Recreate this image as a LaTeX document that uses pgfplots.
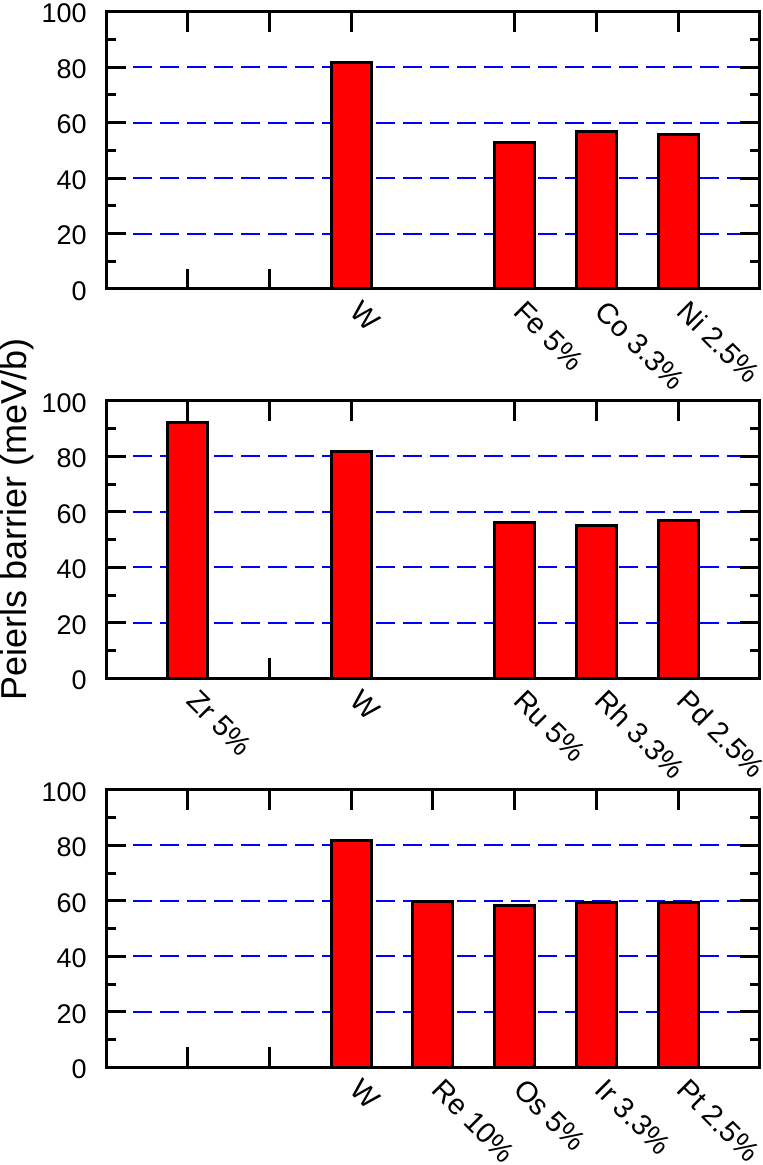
\documentclass[border=0pt]{standalone}
\usepackage{fontspec}
\setmainfont{Liberation Sans}
\usepackage{pgfplots}
\pgfplotsset{compat=1.18}
\usepackage{pgfplotstable}

\pgfplotstableread{
x y
3 81.7
5 52.9
6 56.8
7 55.8
}\toptable
\pgfplotstableread{
x y
1 92.3
3 81.6
5 56.1
6 55.2
7 57.0
}\midtable
\pgfplotstableread{
x y
3 81.8
4 59.8
5 58.4
6 59.4
7 59.4
}\bottable

\pgfplotsset{
  panel/.style={
    scale only axis,
    width=327pt, height=138.7pt,
    xmin=0, xmax=8, ymin=0, ymax=100,
    ytick={0,20,40,60,80,100},
    minor ytick={10,30,50,70,90},
    tick align=inside,
    xtick pos=both, ytick pos=both,
    xticklabel pos=lower, yticklabel pos=left,
    major tick length=10pt, minor tick length=5pt,
    tick style={black, line width=1.5pt},
    axis line style={black, line width=1.5pt},
    ymajorgrids,
    grid style={color=blue, line width=1pt, dash pattern=on 9.5pt off 4pt},
    /pgf/number format/assume math mode=true,
    yticklabel style={font=\fontsize{13.5}{16}\selectfont, inner sep=0pt, xshift=-9.5pt, yshift=-1pt},
    xticklabel style={font=\fontsize{14.5}{17}\selectfont, inner sep=0pt, yshift=-12pt, xshift=-1.5pt, rotate=-45, anchor=base west},
    anchor=south west,
  },
  redbar/.style={ybar, bar width=20pt, bar shift=0pt, fill=red, draw=black, line width=1.5pt},
}

\begin{document}
\begin{tikzpicture}
\useasboundingbox (-53pt,-438pt) rectangle (328.5pt,144.5pt);

\begin{axis}[panel, at={(0pt,0pt)},
  xtick={1,2,3,5,6,7},
  xticklabels={{},{},W,Fe 5\%,Co 3.3\%,Ni 2.5\%}]
\addplot[redbar] table[x=x,y=y] {\toptable};
\end{axis}

\begin{axis}[panel, at={(0pt,-194.65pt)},
  xtick={1,2,3,5,6,7},
  xticklabels={Zr 5\%,{},W,Ru 5\%,Rh 3.3\%,Pd 2.5\%}]
\addplot[redbar] table[x=x,y=y] {\midtable};
\end{axis}

\begin{axis}[panel, at={(0pt,-389.15pt)},
  xtick={1,2,3,4,5,6,7},
  xticklabels={{},{},W,Re 10\%,Os 5\%,Ir 3.3\%,Pt 2.5\%}]
\addplot[redbar] table[x=x,y=y] {\bottable};
\end{axis}

\node[rotate=90, font=\fontsize{18}{21}\selectfont] at (-44.5pt,-115pt) {Peierls barrier (meV/b)};
\end{tikzpicture}
\end{document}
